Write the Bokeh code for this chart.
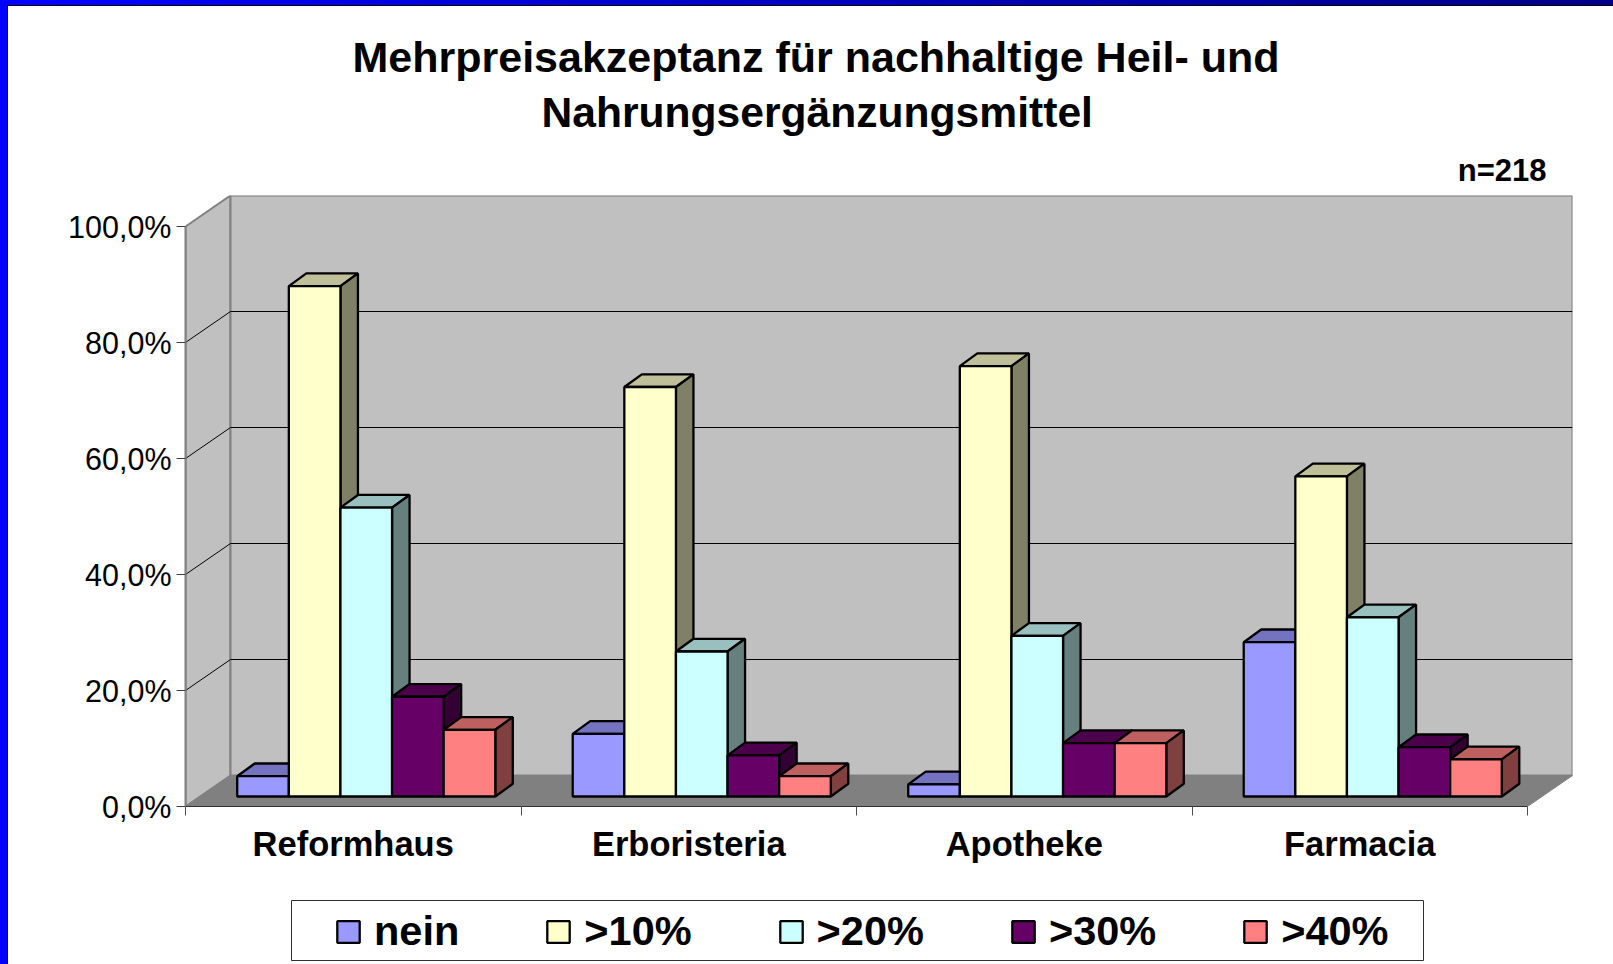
from bokeh.plotting import figure
from bokeh.layouts import column
from bokeh.models import (FixedTicker, Legend, LegendItem, LinearAxis, Range1d, Title)
from bokeh.embed import file_html
from bokeh.resources import INLINE

title_line_1 = "Mehrpreisakzeptanz für nachhaltige Heil- und"
title_line_2 = "Nahrungsergänzungsmittel"
sample_note = "n=218"
categories = ["Reformhaus", "Erboristeria", "Apotheke", "Farmacia"]
series_names = ["nein", ">10%", ">20%", ">30%", ">40%"]
nein = [3.5, 10.8, 2.1, 26.6]
gt10 = [88.0, 70.6, 74.2, 55.2]
gt20 = [49.8, 25.0, 27.7, 30.9]
gt30 = [17.2, 7.1, 9.2, 8.5]
gt40 = [11.5, 3.5, 9.2, 6.4]
series_values = [nein, gt10, gt20, gt30, gt40]
front_colors = ["#9999FF", "#FFFFCC", "#CCFFFF", "#660066", "#FF8080"]
top_colors = ["#7373BF", "#BFBF99", "#99BFBF", "#4C004C", "#BF6060"]
side_colors = ["#4D4D80", "#808066", "#668080", "#330033", "#804040"]
y_ticks = [0, 20, 40, 60, 80, 100]
y_labels = ["0,0%", "20,0%", "40,0%", "60,0%", "80,0%", "100,0%"]

W, H = 1613, 964
CHART_H = 884
LEFT, RIGHT, TOP, BOTTOM = 185, 1572, 195, 806
CAT_PX, PCT_PX = 335.5, 5.8
DX, DY = 45 / CAT_PX, 31 / PCT_PX      # oblique offset of the back wall, in data units
FX0, FX1 = 13 / 45, 30.5 / 45          # bar front and back along the floor depth, horizontally
FY0, FY1 = 10 / 31, 22.7 / 31          # the same, vertically
BAR = 1 / 6.5
GAP = 0.75 * BAR
N = len(categories)
EDGE = 2.3

p = figure(width=W, height=CHART_H, output_backend="svg", toolbar_location=None,
           x_range=Range1d(0, (RIGHT - LEFT) / CAT_PX), y_range=Range1d(0, (BOTTOM - TOP) / PCT_PX),
           min_border_left=LEFT, min_border_right=W - RIGHT, min_border_top=TOP,
           min_border_bottom=CHART_H - BOTTOM, x_axis_type=None, y_axis_type=None,
           outline_line_color=None, margin=0, border_fill_color=None, background_fill_color=None,
           frame_align=False)
p.grid.visible = False

# walls and floor
p.patch([0, DX, DX, 0], [0, DY, 100 + DY, 100], fill_color="#C0C0C0", line_color="#808080", line_width=2)
p.patch([DX, N + DX, N + DX, DX], [DY, DY, 100 + DY, 100 + DY], fill_color="#C0C0C0", line_color="#808080", line_width=2)
for t in y_ticks[1:-1]:
    p.line([0, DX, N + DX], [t, t + DY, t + DY], line_color="#000000", line_width=1)
p.patch([0, N, N + DX, DX], [0, 0, DY, DY], fill_color="#808080", line_color="#808080", line_width=1)

# bars
for s, (name, values) in enumerate(zip(series_names, series_values)):
    left = [c + GAP + s * BAR for c in range(N)]
    right = [x + BAR for x in left]
    tops_x = [[l + FX0 * DX, r + FX0 * DX, r + FX1 * DX, l + FX1 * DX] for l, r in zip(left, right)]
    tops_y = [[v + FY0 * DY, v + FY0 * DY, v + FY1 * DY, v + FY1 * DY] for v in values]
    side_x = [[r + FX0 * DX, r + FX1 * DX, r + FX1 * DX, r + FX0 * DX] for r in right]
    side_y = [[FY0 * DY, FY1 * DY, v + FY1 * DY, v + FY0 * DY] for v in values]
    p.patches(tops_x, tops_y, fill_color=top_colors[s], line_color="#000000", line_width=EDGE)
    p.patches(side_x, side_y, fill_color=side_colors[s], line_color="#000000", line_width=EDGE)
    p.quad(left=[l + FX0 * DX for l in left], right=[r + FX0 * DX for r in right],
           bottom=[FY0 * DY] * N, top=[v + FY0 * DY for v in values],
           fill_color=front_colors[s], line_color="#000000", line_width=EDGE)

# axes
yaxis = LinearAxis(ticker=FixedTicker(ticks=y_ticks), bounds=(0, 100),
                   major_label_overrides={t: l for t, l in zip(y_ticks, y_labels)},
                   major_label_text_font="Liberation Sans", major_label_text_font_size="30.5px",
                   major_label_text_color="#000000", major_label_standoff=5,
                   axis_line_color="#808080", axis_line_width=2,
                   major_tick_line_color="#404040", major_tick_in=0, major_tick_out=9,
                   minor_tick_line_color=None)
p.add_layout(yaxis, "left")

xaxis = LinearAxis(ticker=FixedTicker(ticks=[i + 0.5 for i in range(N)], minor_ticks=list(range(N + 1))),
                   bounds=(0, N),
                   major_label_overrides={i + 0.5: c for i, c in enumerate(categories)},
                   major_label_text_font="Liberation Sans", major_label_text_font_style="bold",
                   major_label_text_font_size="34.5px", major_label_text_color="#000000",
                   major_label_standoff=9,
                   axis_line_color="#303030", axis_line_width=1,
                   major_tick_line_color=None, major_tick_out=0, major_tick_in=0,
                   minor_tick_line_color="#505050", minor_tick_in=0, minor_tick_out=9)
p.add_layout(xaxis, "below")

# titles stack outward from the frame
p.add_layout(Title(text=sample_note, align="right", offset=26, standoff=15,
                   text_font="Liberation Sans", text_font_style="bold", text_font_size="31px",
                   text_color="#000000"), "above")
p.add_layout(Title(text=title_line_2, align="left", offset=356, standoff=16,
                   text_font="Liberation Sans", text_font_style="bold", text_font_size="42.6px",
                   text_color="#000000"), "above")
p.add_layout(Title(text=title_line_1, align="left", offset=167, standoff=-6,
                   text_font="Liberation Sans", text_font_style="bold", text_font_size="43px",
                   text_color="#000000"), "above")

# legend: a strip whose frame is the legend box; its swatch sources sit outside the frame's range
LEG_L, LEG_R, LEG_T, LEG_B = 291, 1423, 900, 960
q = figure(width=W, height=H - CHART_H, output_backend="svg", toolbar_location=None,
           x_range=Range1d(0, 1), y_range=Range1d(0, 1),
           min_border_left=LEG_L, min_border_right=W - LEG_R, min_border_top=LEG_T - CHART_H,
           min_border_bottom=H - LEG_B, x_axis_type=None, y_axis_type=None, margin=0,
           outline_line_color="#303030", outline_line_width=1,
           border_fill_color=None, background_fill_color="#FFFFFF", frame_align=False)
q.grid.visible = False
legend_items = []
for s, name in enumerate(series_names):
    r = q.quad(left=[2], right=[3], bottom=[2], top=[3], fill_color=front_colors[s],
               line_color="#000000", line_width=EDGE)
    legend_items.append(LegendItem(label=name, renderers=[r]))
legend = Legend(items=legend_items, orientation="horizontal", location=(43, 5),
                label_text_font="Liberation Sans", label_text_font_style="bold", label_text_font_size="41.5px",
                label_text_color="#000000", glyph_width=28, glyph_height=27,
                border_line_color=None, background_fill_alpha=0,
                padding=0, margin=0, spacing=85, label_standoff=12, label_height=40)
q.add_layout(legend)

# the slide's frame lies behind the two transparent figures
page_bg = ("linear-gradient(#000,#000) 7px 5px / 100% 1px no-repeat,"
           "linear-gradient(#000,#000) 7px 5px / 1px 100% no-repeat,"
           "linear-gradient(to right,#0000FF,#000088) 0 0 / 100% 5px no-repeat,"
           "linear-gradient(#0000FF,#0000FF) 0 0 / 7px 100% no-repeat,#FFFFFF")
layout = column(p, q, spacing=0, margin=0, width=W, height=H, styles={"background": page_bg})

open("out.html", "w").write(file_html(layout, INLINE))
